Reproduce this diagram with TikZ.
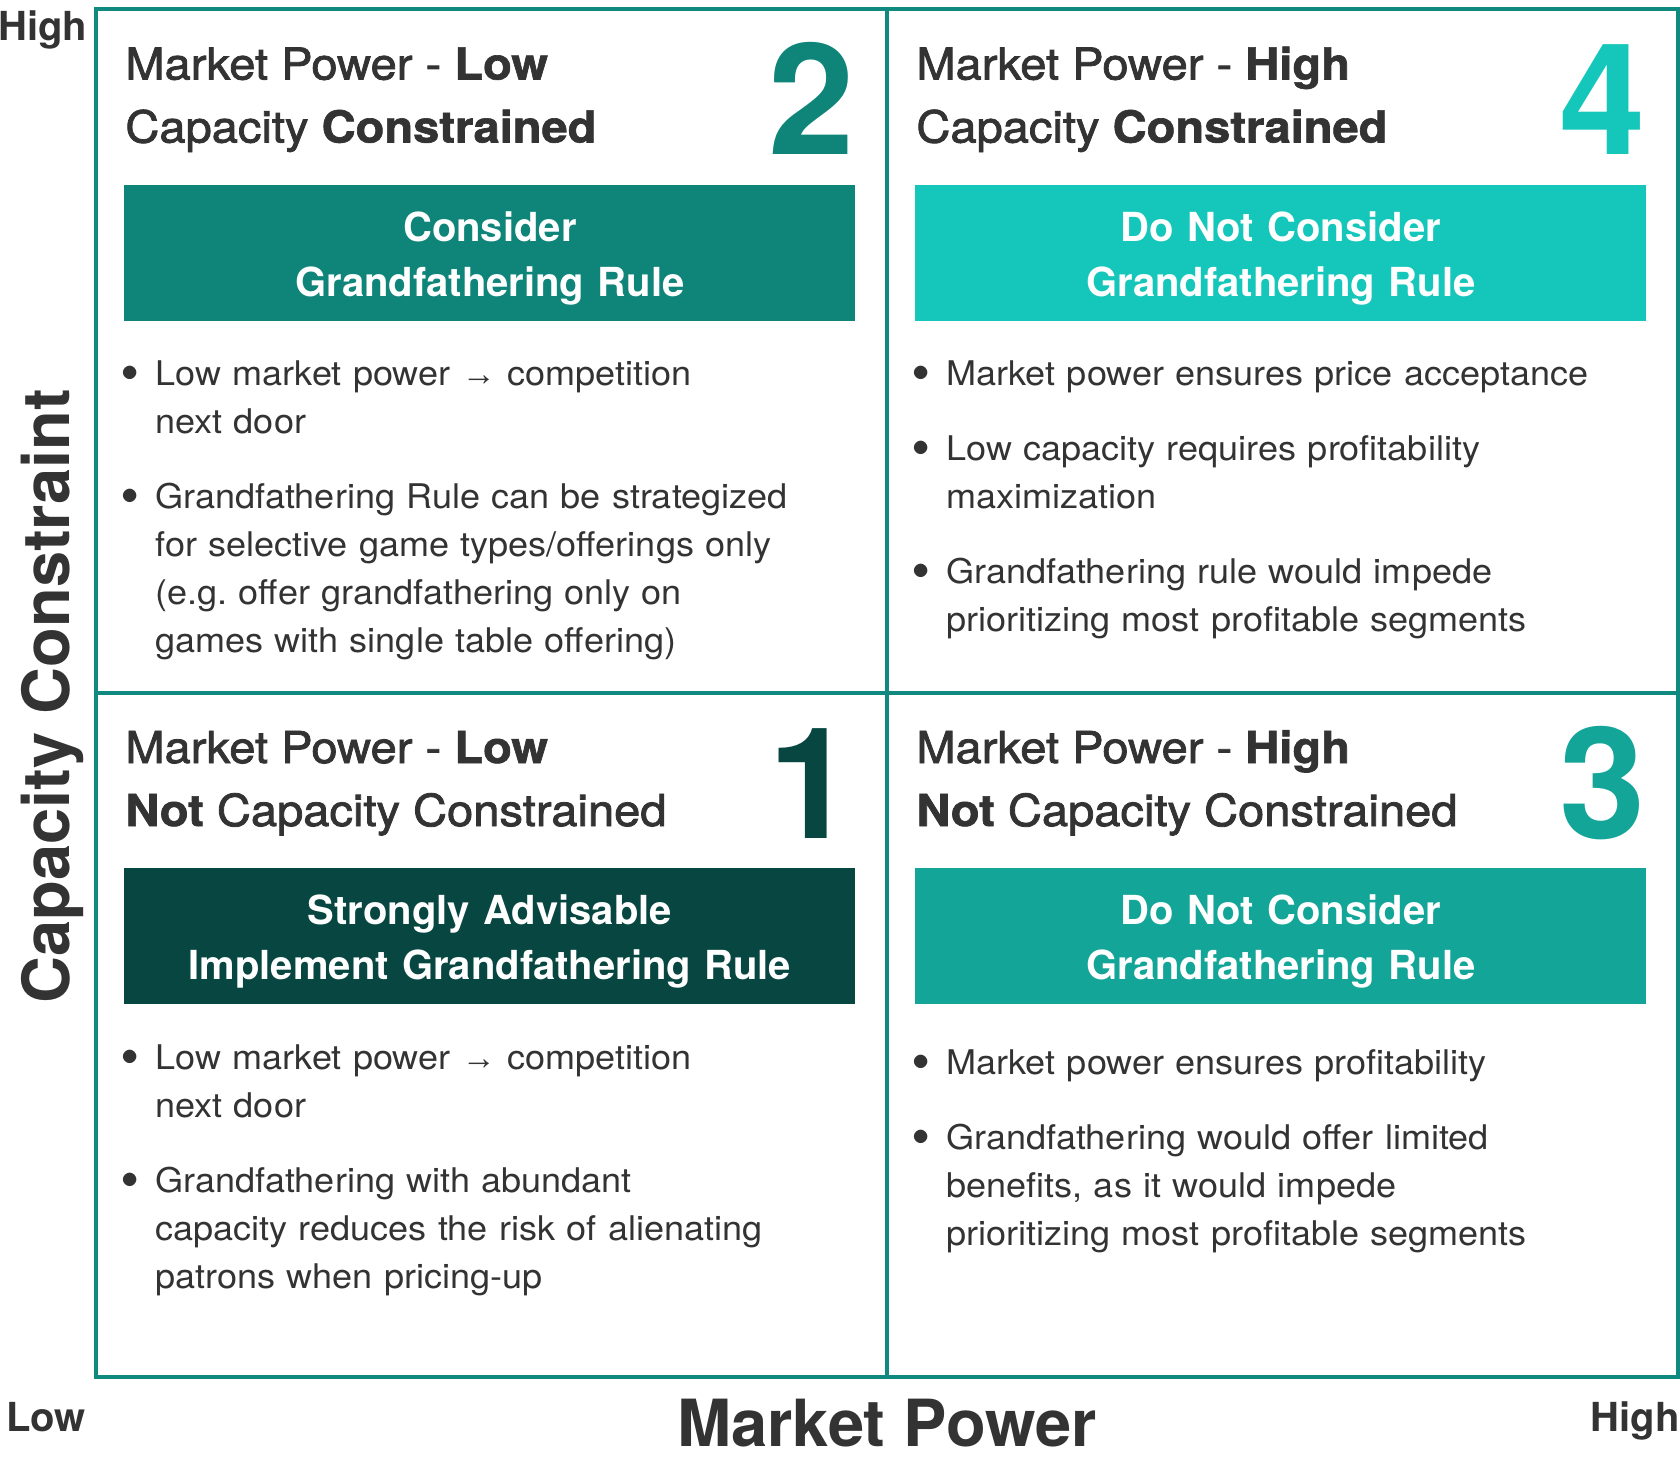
\documentclass[tikz,border=0pt]{standalone}
\usepackage{fontspec}
\setmainfont{TeX Gyre Heros}
\newfontfamily\titlefont[FakeStretch=1.07,FakeBold=1.8]{TeX Gyre Heros}
\newfontfamily\titleheavy[FakeStretch=1.07,FakeBold=1.5]{TeX Gyre Heros}
\newfontfamily\bodyfont[FakeStretch=1.06]{TeX Gyre Heros}
\newfontfamily\arrowfont{Liberation Sans}
\usetikzlibrary{positioning, calc}
\definecolor{frame}{HTML}{108A80}
\definecolor{ink}{HTML}{333333}
\definecolor{one}{HTML}{084741}
\definecolor{two}{HTML}{0F857A}
\definecolor{three}{HTML}{13A598}
\definecolor{four}{HTML}{15C7BA}
\newcommand{\dotitem}{\hangindent=17pt\makebox[17pt][l]{\raisebox{2pt}{$\bullet$}}}
\newcommand{\heavyword}[1]{{\titleheavy\bfseries #1}}
\tikzset{
    x=0.5pt, y=0.5pt, % one unit is one pixel of the reference
    quad/.style={ % one field of the matrix
        draw=frame, line width=1.75pt, anchor=north west, inner sep=0,
        minimum width=395.5pt, minimum height=342pt
    },
    heading/.style={
        anchor=base west, inner sep=0, text=ink,
        font=\titlefont\fontsize{22pt}{26pt}\selectfont
    },
    digit/.style={
        anchor=base east, inner sep=0,
        font=\fontsize{77.5pt}{80pt}\selectfont\bfseries
    },
    verdict/.style={ % coloured box with the advice
        anchor=north west, inner sep=0, text=white,
        minimum width=365.5pt, minimum height=68pt, text width=365.5pt, align=center,
        font=\fontsize{20pt}{27.5pt}\selectfont\bfseries
    },
    points/.style={ % bullet list
        anchor=north west, inner sep=0, text=ink, text width=360pt, align=left,
        font=\bodyfont\fontsize{17pt}{24pt}\selectfont,
        execute at begin node={\setlength{\parskip}{13.5pt}}
    },
    axis/.style={inner sep=0, text=ink, font=\fontsize{20pt}{24pt}\selectfont\bfseries},
    axistitle/.style={inner sep=0, text=ink, font=\fontsize{32.5pt}{36pt}\selectfont\bfseries}
}

\begin{document}
\begin{tikzpicture}
    \useasboundingbox (0,0) rectangle (1680,1458);

    % the four fields
    \node[quad] (q2) at (94,1450.5) {};
    \node[quad] (q4) at (885,1450.5) {};
    \node[quad] (q1) at (94,767) {};
    \node[quad] (q3) at (885,767) {};

    % field 2
    \node[heading] (h2a) at ($(q2.north west)+(31,-72)$) {Market Power - \heavyword{Low}};
    \node[heading, below=31.5pt of h2a.base west, anchor=base west] (h2b) {Capacity \heavyword{Constrained}};
    \node[digit, text=two] (n2) at ($(q2.north west)+(761,-147)$) {2};
    \node[verdict, fill=two] (v2) at ($(q2.north west)+(30,-177)$) {\rule{0pt}{20pt}Consider\\Grandfathering Rule};
    \node[points] (p2) at ($(q2.north west)+(27,-353)$) {%
        \dotitem Low market power {\arrowfont →} competition\newline next door\par
        \dotitem Grandfathering Rule can be strategized\newline for selective game types/offerings only\newline (e.g.\ offer grandfathering only on\newline games with single table offering)\par};

    % field 4
    \node[heading] (h4a) at ($(q4.north west)+(31,-72)$) {Market Power - \heavyword{High}};
    \node[heading, below=31.5pt of h4a.base west, anchor=base west] (h4b) {Capacity \heavyword{Constrained}};
    \node[digit, text=four] (n4) at ($(q4.north west)+(761,-147)$) {4};
    \node[verdict, fill=four] (v4) at ($(q4.north west)+(30,-177)$) {\rule{0pt}{20pt}Do Not Consider\\Grandfathering Rule};
    \node[points] (p4) at ($(q4.north west)+(27,-353)$) {%
        \dotitem Market power ensures price acceptance\par
        \dotitem Low capacity requires profitability\newline maximization\par
        \dotitem Grandfathering rule would impede\newline prioritizing most profitable segments\par};

    % field 1
    \node[heading] (h1a) at ($(q1.north west)+(31,-72)$) {Market Power - \heavyword{Low}};
    \node[heading, below=31.5pt of h1a.base west, anchor=base west] (h1b) {\heavyword{Not} Capacity Constrained};
    \node[digit, text=one] (n1) at ($(q1.north west)+(761,-147)$) {1};
    \node[verdict, fill=one] (v1) at ($(q1.north west)+(30,-177)$) {\rule{0pt}{20pt}Strongly Advisable\\Implement Grandfathering Rule};
    \node[points] (p1) at ($(q1.north west)+(27,-353)$) {%
        \dotitem Low market power {\arrowfont →} competition\newline next door\par
        \dotitem Grandfathering with abundant\newline capacity reduces the risk of alienating\newline patrons when pricing-up\par};

    % field 3
    \node[heading] (h3a) at ($(q3.north west)+(31,-72)$) {Market Power - \heavyword{High}};
    \node[heading, below=31.5pt of h3a.base west, anchor=base west] (h3b) {\heavyword{Not} Capacity Constrained};
    \node[digit, text=three] (n3) at ($(q3.north west)+(761,-147)$) {3};
    \node[verdict, fill=three] (v3) at ($(q3.north west)+(30,-177)$) {\rule{0pt}{20pt}Do Not Consider\\Grandfathering Rule};
    \node[points] (p3) at ($(q3.north west)+(27,-358)$) {%
        \dotitem Market power ensures profitability\par
        \dotitem Grandfathering would offer limited\newline benefits, as it would impede\newline prioritizing most profitable segments\par};

    % axes
    \node[axis, anchor=base west] (yhigh) at (-2,1417) {High};
    \node[axis, anchor=base west] (xlow) at (6,27) {Low};
    \node[axis, anchor=base east] (xhigh) at (1680,27) {High};
    \node[axistitle, anchor=base] (xname) at (887,12) {Market Power};
    \node[axistitle, anchor=base, rotate=90] (yname) at (70,762) {Capacity Constraint};
\end{tikzpicture}
\end{document}
